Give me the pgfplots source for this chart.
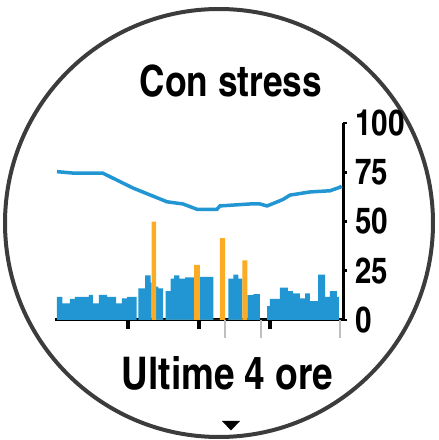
\documentclass[border=0pt]{standalone}
\usepackage{pgfplots}
\pgfplotsset{compat=1.18}
\usepackage{pgfplotstable}
\usepackage{fontspec}
\setmainfont{texgyreheroscn}[Extension=.otf, UprightFont=*-regular, BoldFont=*-bold]
\definecolor{gblue}{RGB}{33,150,210}
\definecolor{gorange}{RGB}{252,172,36}
\definecolor{ring}{RGB}{60,60,60}

% stress bars (minute, level); last row is the end of the last interval
\pgfplotstableread{
m v
0 11.8
4.5 8.5
11 10.7
15.2 11.8
27 12.7
30.4 8.5
35.5 12.7
42.3 11.8
49.9 8.5
54.9 11
59.2 11.8
67.4 0
68.7 16
74.4 22.7
79.2 19
80 0
83.7 17
85.6 16
89.8 0
91.9 14.6
96.1 21
98.9 22.7
103.4 21
108.2 21.6
116 0
120.8 21.9
132.1 0
144.8 21
149 23
153.2 21
156.6 0
160.8 12.6
165.9 13.1
171.5 0
177.5 7
180 10.7
188.4 16.4
195.2 14.7
199.4 13.5
205.3 11
209.6 13.5
213.8 9.6
220.6 23
226.5 11.8
230.7 14.6
236.6 11.8
238.3 0
}\stressbars

\pgfplotstableread{
m v
80 50
83.7 0
116 28
120.8 0
137.7 41.6
142 0
156.6 30.3
160.8 0
}\highbars

\pgfplotstableread{
m v
0 75.3
15.2 74.5
38.9 74.5
50.7 71
64.2 67
78.6 63.5
93 60
106.5 58.9
118.3 56.2
135.2 56.2
137.7 57.9
163.1 58.9
171.5 58.9
177.5 57.9
184.2 59.5
191 61.2
196.9 63.4
213.8 65
230.7 65.6
239.2 67.4
240.5 68
}\battery

\begin{document}
\begin{tikzpicture}[x=1pt,y=1pt]
\useasboundingbox (0,0) rectangle (439,440);
\draw[ring, line width=4pt] (219,217) circle[radius=214];
\node[anchor=base, font=\bfseries\fontsize{43}{43}\selectfont, inner sep=0pt] at (231,343) {Con stress};
\node[anchor=base, font=\bfseries\fontsize{45}{45}\selectfont, inner sep=0pt] at (227.5,50) {Ultime 4 ore};
\fill[black] (222,19) -- (240,19) -- (231,9.5) -- cycle;
\begin{axis}[
  at={(54.6pt,120pt)}, anchor=south west,
  scale only axis, width=288.4pt, height=197pt,
  xmin=-2, xmax=241.7, ymin=0, ymax=100,
  axis x line*=bottom, axis y line*=right,
  axis line style={line width=3pt, black, -},
  tick align=outside,
  major tick length=9pt,
  tick style={line width=3.5pt, black},
  xtick={60,120,180}, xticklabels={},
  extra x ticks={142,172.4,239}, extra x tick labels={},
  extra x tick style={major tick length=18pt, tick style={line width=2pt, gray!50}},
  ytick=\empty,
  extra y ticks={0,25,50,75,100},
  extra y tick style={major tick length=4pt, tick style={line width=2.5pt, black}},
  /pgf/number format/assume math mode=true,
  yticklabel style={anchor=west, xshift=5pt, font=\bfseries\fontsize{36}{36}\selectfont},
  clip=false,
]
\addplot[ybar interval, fill=gblue, draw=none] table[x=m, y=v] {\stressbars};
\addplot[ybar interval, fill=gorange, draw=none] table[x=m, y=v] {\highbars};
\addplot[gblue, line width=3.5pt, no marks] table[x=m, y=v] {\battery};
\end{axis}
\end{tikzpicture}
\end{document}
